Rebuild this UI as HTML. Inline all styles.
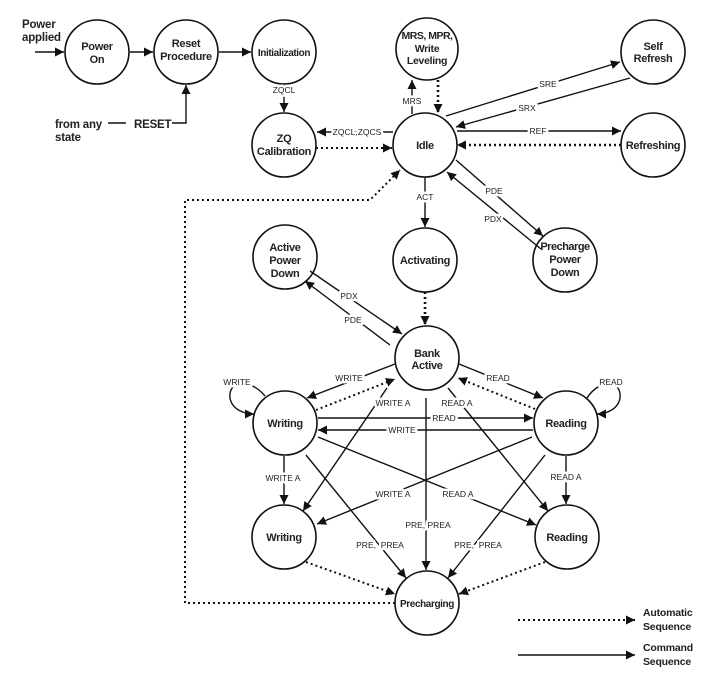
<!DOCTYPE html>
<html><head><meta charset="utf-8"><style>
body{margin:0;background:#fff}
svg{display:block}
text{font-family:"Liberation Sans",sans-serif;fill:#222}
.n{font-size:11px;font-weight:bold;text-anchor:middle;letter-spacing:-0.3px}
.l{font-size:8.5px;text-anchor:middle;paint-order:stroke;stroke:#fff;stroke-width:5px;stroke-linejoin:round}
.t{font-size:11.5px;font-weight:bold;letter-spacing:-0.2px}
</style></head><body>
<svg width="721" height="682" viewBox="0 0 721 682" xmlns="http://www.w3.org/2000/svg">
<defs>
<marker id="a" viewBox="0 0 10 10" refX="10" refY="5" markerWidth="9" markerHeight="9" markerUnits="userSpaceOnUse" orient="auto"><path d="M0,0L10,5L0,10z" fill="#111"/></marker>
</defs>
<g fill="none" stroke="#111" stroke-width="1.6">
<circle cx="97" cy="52" r="32"/><circle cx="186" cy="52" r="32"/><circle cx="284" cy="52" r="32"/>
<circle cx="284" cy="145" r="32"/><circle cx="427" cy="49" r="31"/><circle cx="653" cy="52" r="32"/>
<circle cx="425" cy="145" r="32"/><circle cx="653" cy="145" r="32"/><circle cx="425" cy="260" r="32"/>
<circle cx="565" cy="260" r="32"/><circle cx="285" cy="257" r="32"/><circle cx="427" cy="358" r="32"/>
<circle cx="285" cy="423" r="32"/><circle cx="566" cy="423" r="32"/><circle cx="284" cy="537" r="32"/>
<circle cx="567" cy="537" r="32"/><circle cx="427" cy="603" r="32"/>
</g>
<g stroke="#111" stroke-width="1.4" fill="none" marker-end="url(#a)">
<line x1="35" y1="52" x2="64" y2="52"/>
<line x1="130" y1="52" x2="153" y2="52"/>
<line x1="219" y1="52" x2="251" y2="52"/>
<polyline points="172,123 186,123 186,85"/>
<line x1="284" y1="85" x2="284" y2="112"/>
<line x1="393" y1="132" x2="317" y2="132"/>
<line x1="412" y1="114" x2="412" y2="80"/>
<line x1="446" y1="116" x2="620" y2="62"/>
<line x1="630" y1="78" x2="456" y2="127"/>
<line x1="457" y1="131" x2="621" y2="131"/>
<line x1="425" y1="177" x2="425" y2="227"/>
<line x1="456" y1="160" x2="543" y2="236"/>
<line x1="541" y1="249" x2="447" y2="172"/>
<line x1="310" y1="271" x2="402" y2="334"/>
<line x1="390" y1="345" x2="305" y2="281"/>
<line x1="395" y1="364" x2="307" y2="398"/>
<line x1="459" y1="364" x2="543" y2="398"/>
<path d="M265,396 C250,378 228,380 230,398 C232,410 245,414 254,414"/>
<path d="M587,398 C600,378 622,380 620,398 C618,410 605,414 597,414"/>
<line x1="318" y1="418" x2="533" y2="418"/>
<line x1="533" y1="430" x2="318" y2="430"/>
<line x1="284" y1="456" x2="284" y2="504"/>
<line x1="566" y1="456" x2="566" y2="504"/>
<line x1="387" y1="388" x2="303" y2="511"/>
<line x1="448" y1="388" x2="548" y2="511"/>
<line x1="426" y1="398" x2="426" y2="570"/>
<line x1="306" y1="455" x2="406" y2="578"/>
<line x1="545" y1="455" x2="448" y2="578"/>
<line x1="318" y1="437" x2="536" y2="525"/>
<line x1="532" y1="437" x2="317" y2="524"/>
<line x1="518" y1="655" x2="635" y2="655"/>
</g>
<line x1="108" y1="123" x2="126" y2="123" stroke="#111" stroke-width="1.4"/>
<g stroke="#111" stroke-width="2" fill="none" stroke-dasharray="2,3" marker-end="url(#a)">
<line x1="316" y1="148" x2="392" y2="148"/>
<line x1="438" y1="80" x2="438" y2="113" stroke-width="2.6"/>
<line x1="621" y1="145" x2="457" y2="145" stroke-width="2.6"/>
<line x1="425" y1="292" x2="425" y2="325" stroke-width="2.6"/>
<line x1="316" y1="410" x2="395" y2="379"/>
<line x1="535" y1="409" x2="458" y2="378"/>
<line x1="306" y1="562" x2="395" y2="594"/>
<line x1="545" y1="562" x2="459" y2="594"/>
<polyline points="395,603 185,603 185,200 370,200 400,170"/>
<line x1="518" y1="620" x2="635" y2="620"/>
</g>
<g class="n">
<text x="97" y="50">Power</text><text x="97" y="63">On</text>
<text x="186" y="47">Reset</text><text x="186" y="60">Procedure</text>
<text x="284" y="56" style="font-size:10px;letter-spacing:-0.4px">Initialization</text>
<text x="284" y="142">ZQ</text><text x="284" y="155">Calibration</text>
<text x="427" y="39" style="font-size:10.5px;letter-spacing:-0.5px">MRS, MPR,</text><text x="427" y="52" style="font-size:10.5px">Write</text><text x="427" y="64" style="font-size:10.5px">Leveling</text>
<text x="653" y="50">Self</text><text x="653" y="62">Refresh</text>
<text x="425" y="149">Idle</text>
<text x="653" y="149">Refreshing</text>
<text x="425" y="264">Activating</text>
<text x="565" y="250" style="letter-spacing:-0.5px">Precharge</text><text x="565" y="263">Power</text><text x="565" y="276">Down</text>
<text x="285" y="251">Active</text><text x="285" y="264">Power</text><text x="285" y="277">Down</text>
<text x="427" y="357">Bank</text><text x="427" y="369">Active</text>
<text x="285" y="427">Writing</text><text x="566" y="427">Reading</text>
<text x="284" y="541">Writing</text><text x="567" y="541">Reading</text>
<text x="427" y="607" style="font-size:10px;letter-spacing:-0.4px">Precharging</text>
</g>
<g class="t">
<text x="22" y="28">Power</text><text x="22" y="41">applied</text>
<text x="55" y="128">from any</text><text x="55" y="141">state</text>
<text x="134" y="128">RESET</text>
<text x="643" y="616" style="font-size:10.5px">Automatic</text><text x="643" y="630" style="font-size:10.5px">Sequence</text>
<text x="643" y="651" style="font-size:10.5px">Command</text><text x="643" y="665" style="font-size:10.5px">Sequence</text>
</g>
<g class="l">
<text x="284" y="93">ZQCL</text>
<text x="357" y="135">ZQCL,ZQCS</text>
<text x="412" y="104">MRS</text>
<text x="548" y="87">SRE</text>
<text x="527" y="111">SRX</text>
<text x="538" y="134">REF</text>
<text x="425" y="200">ACT</text>
<text x="494" y="194">PDE</text>
<text x="493" y="222">PDX</text>
<text x="349" y="299">PDX</text>
<text x="353" y="323">PDE</text>
<text x="349" y="381">WRITE</text>
<text x="498" y="381">READ</text>
<text x="237" y="385">WRITE</text>
<text x="611" y="385">READ</text>
<text x="444" y="421">READ</text>
<text x="402" y="433">WRITE</text>
<text x="393" y="406">WRITE A</text>
<text x="457" y="406">READ A</text>
<text x="283" y="481">WRITE A</text>
<text x="566" y="480">READ A</text>
<text x="393" y="497">WRITE A</text>
<text x="458" y="497">READ A</text>
<text x="428" y="528">PRE, PREA</text>
<text x="380" y="548">PRE,&#160; PREA</text>
<text x="478" y="548">PRE,&#160; PREA</text>
</g>
</svg>
</body></html>
